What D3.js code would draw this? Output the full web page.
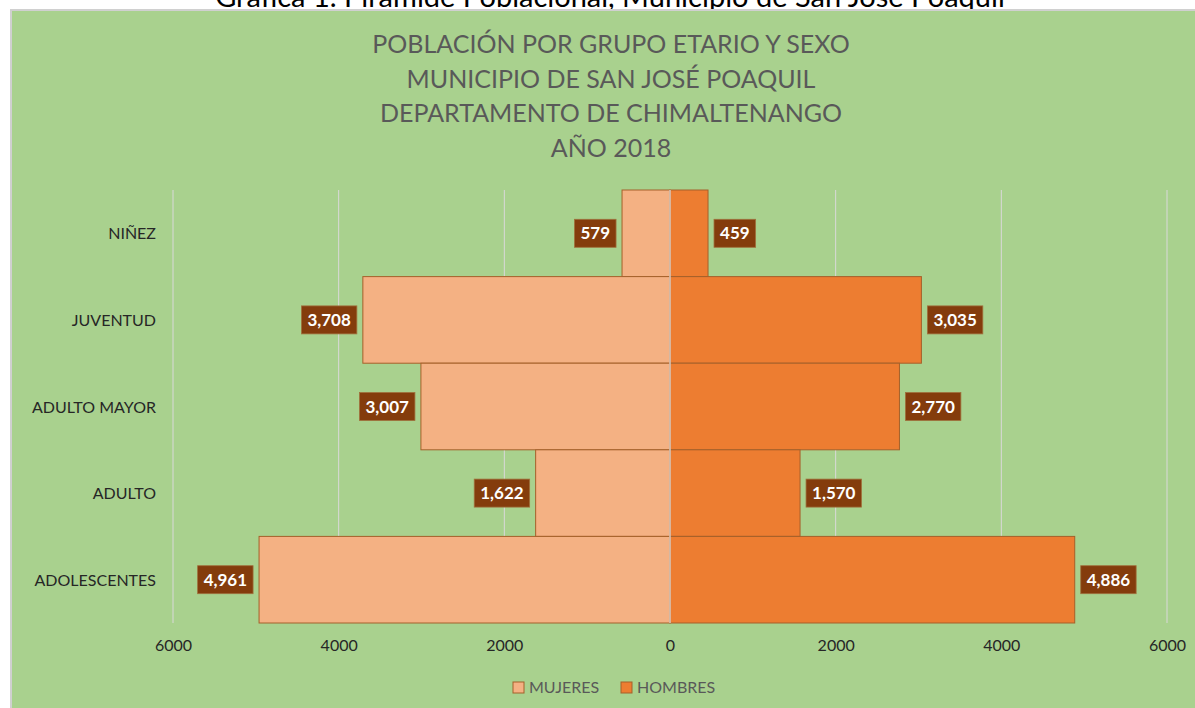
<!DOCTYPE html>
<html>
<head>
<meta charset="utf-8">
<script src="https://cdn.jsdelivr.net/npm/d3@7"></script>
<style>
  html, body { margin: 0; padding: 0; background: #fff; }
  svg { display: block; font-family: Lato, "Open Sans", sans-serif; }
</style>
</head>
<body>
<div id="vis"></div>
<script>
// data, top to bottom as in the chart
var categories = ['NIÑEZ', 'JUVENTUD', 'ADULTO MAYOR', 'ADULTO', 'ADOLESCENTES'];
var mujeres = [579, 3708, 3007, 1622, 4961];
var hombres = [459, 3035, 2770, 1570, 4886];
var tickValues = [-6000, -4000, -2000, 0, 2000, 4000, 6000];
var titleLines = ['POBLACIÓN POR GRUPO ETARIO Y SEXO', 'MUNICIPIO DE SAN JOSÉ POAQUIL',
                  'DEPARTAMENTO DE CHIMALTENANGO', 'AÑO 2018'];
var seriesNames = ['MUJERES', 'HOMBRES'];

var width = 1195;
var height = 708;
var colors = { MUJERES: '#f4b183', HOMBRES: '#ed7d31' };

var svg = d3.select('#vis').append('svg')
  .attr('width', width)
  .attr('height', height);

// caption above the chart, cut off by the page top like in the source
svg.append('text')
  .attr('x', 610)
  .attr('y', 7)
  .attr('text-anchor', 'middle')
  .attr('font-size', 29)
  .attr('fill', '#000')
  .text('Gráfica 1. Pirámide Poblacional, Municipio de San José Poaquil');

// chart area
svg.append('rect')
  .attr('x', 11).attr('y', 10)
  .attr('width', width - 10).attr('height', height - 9)
  .attr('fill', '#a9d18e')
  .attr('stroke', '#d0d0d0')
  .attr('stroke-width', 2);

svg.append('g').selectAll('text')
  .data(titleLines)
  .enter().append('text')
  .attr('x', 611)
  .attr('y', function (d, i) { return 53 + i * 34.7; })
  .attr('text-anchor', 'middle')
  .attr('font-size', 25)
  .attr('fill', '#595959')
  .text(function (d) { return d; });

var x = d3.scaleLinear().domain([-6000, 6000]).range([173, 1167]);
var y = d3.scaleBand().domain(categories).range([190, 623]).padding(0);

// gridlines
svg.append('g').selectAll('line')
  .data(tickValues.filter(function (d) { return d !== 0; }))
  .enter().append('line')
  .attr('x1', function (d) { return x(d); })
  .attr('x2', function (d) { return x(d); })
  .attr('y1', 190).attr('y2', 623)
  .attr('stroke', '#d9d9d9')
  .attr('stroke-width', 1);

var rows = categories.map(function (c, i) {
  return { cat: c, m: mujeres[i], h: hombres[i] };
});

// bars
svg.append('g').selectAll('rect')
  .data(rows)
  .enter().append('rect')
  .attr('x', function (d) { return x(-d.m); })
  .attr('y', function (d) { return y(d.cat); })
  .attr('width', function (d) { return x(0) - x(-d.m); })
  .attr('height', y.bandwidth())
  .attr('fill', colors.MUJERES)
  .attr('stroke', '#a5602a')
  .attr('stroke-width', 1);

svg.append('g').selectAll('rect')
  .data(rows)
  .enter().append('rect')
  .attr('x', x(0))
  .attr('y', function (d) { return y(d.cat); })
  .attr('width', function (d) { return x(d.h) - x(0); })
  .attr('height', y.bandwidth())
  .attr('fill', colors.HOMBRES)
  .attr('stroke', '#a5602a')
  .attr('stroke-width', 1);

// zero axis line
svg.append('line')
  .attr('x1', x(0)).attr('x2', x(0))
  .attr('y1', 190).attr('y2', 623)
  .attr('stroke', '#e6e6e6')
  .attr('stroke-width', 1.2);

// data labels
var fmt = d3.format(',');

function addLabel(value, cat, side) {
  var g = svg.append('g');
  var t = g.append('text')
    .attr('font-size', 17)
    .attr('font-weight', 'bold')
    .attr('fill', '#fff')
    .attr('text-anchor', 'middle')
    .text(fmt(value));
  var w = t.node().getComputedTextLength() + 12;
  var cy = y(cat) + y.bandwidth() / 2;
  var cx = side < 0 ? x(-value) - 6 - w / 2 : x(value) + 6 + w / 2;
  g.insert('rect', 'text')
    .attr('x', cx - w / 2)
    .attr('y', cy - 14)
    .attr('width', w)
    .attr('height', 28)
    .attr('fill', '#843c0c')
    .attr('stroke', '#a0703c')
    .attr('stroke-width', 0.8);
  t.attr('x', cx).attr('y', cy + 6);
}

rows.forEach(function (d) {
  addLabel(d.m, d.cat, -1);
  addLabel(d.h, d.cat, 1);
});

// category axis labels
svg.append('g').selectAll('text')
  .data(categories)
  .enter().append('text')
  .attr('x', 156)
  .attr('y', function (d) { return y(d) + y.bandwidth() / 2 + 6; })
  .attr('text-anchor', 'end')
  .attr('font-size', 16)
  .attr('fill', '#262626')
  .text(function (d) { return d; });

// value axis
var xAxis = d3.axisBottom(x)
  .tickValues(tickValues)
  .tickSize(0)
  .tickPadding(0)
  .tickFormat(function (d) { return Math.abs(d); });

var axisG = svg.append('g')
  .attr('transform', 'translate(0,640)')
  .call(xAxis);
axisG.select('.domain').remove();
axisG.selectAll('text')
  .attr('font-family', 'Lato, "Open Sans", sans-serif')
  .attr('font-size', 16)
  .attr('fill', '#262626');

// legend
var legendX = [513, 621];
var legend = svg.append('g').selectAll('g')
  .data(seriesNames)
  .enter().append('g')
  .attr('transform', function (d, i) { return 'translate(' + legendX[i] + ',682)'; });

legend.append('rect')
  .attr('width', 11).attr('height', 11)
  .attr('fill', function (d) { return colors[d]; })
  .attr('stroke', '#a5602a')
  .attr('stroke-width', 1);

legend.append('text')
  .attr('x', 16)
  .attr('y', 11)
  .attr('font-size', 16)
  .attr('fill', '#595959')
  .text(function (d) { return d; });
</script>
</body>
</html>
